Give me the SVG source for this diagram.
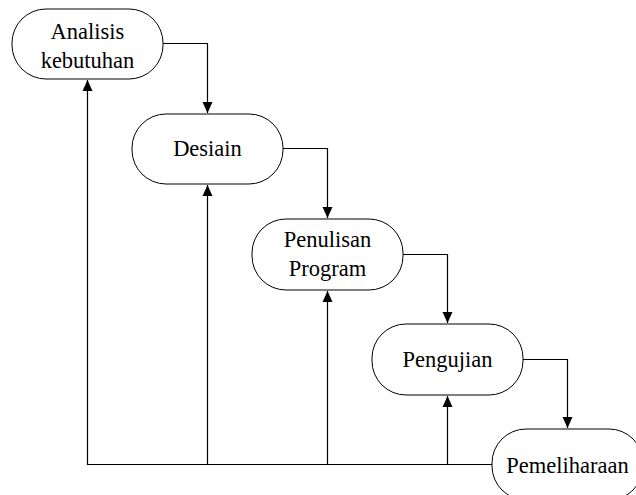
<svg xmlns="http://www.w3.org/2000/svg" width="636" height="495" viewBox="0 0 636 495">
<style>
.node rect{fill:#fff;stroke:#000;stroke-width:1}
.node text{font-family:"Liberation Serif",serif;font-size:22.5px;fill:#000;text-anchor:middle}
.conn path{fill:none;stroke:#000;stroke-width:1.2}
</style>
<defs>
<marker id="ah" markerWidth="11" markerHeight="12" refX="11" refY="5" orient="auto" markerUnits="userSpaceOnUse" viewBox="0 0 11 10">
<path d="M0,0 L11,5 L0,10 Z" fill="#000"/>
</marker>
</defs>
<rect width="636" height="495" fill="#fff"/>
<g class="conn">
<path d="M163,43.5 H207.5 V113" marker-end="url(#ah)"/>
<path d="M283,148.5 H327.5 V218" marker-end="url(#ah)"/>
<path d="M403,254.5 H447.5 V323" marker-end="url(#ah)"/>
<path d="M523,359.5 H567.5 V428" marker-end="url(#ah)"/>
<path d="M493,464.5 H87.5 V80" marker-end="url(#ah)"/>
<path d="M207.5,464.5 V185" marker-end="url(#ah)"/>
<path d="M327.5,464.5 V291" marker-end="url(#ah)"/>
<path d="M447.5,464.5 V396" marker-end="url(#ah)"/>
</g>
<g id="analisis" class="node">
<rect x="12" y="9" width="151" height="70" rx="34" ry="34"/>
<text x="87.5" y="39">Analisis</text>
<text x="87.5" y="68">kebutuhan</text>
</g>
<g id="desiain" class="node">
<rect x="132" y="114" width="151" height="70" rx="34" ry="34"/>
<text x="207.5" y="156">Desiain</text>
</g>
<g id="penulisan" class="node">
<rect x="252" y="219" width="151" height="71" rx="34" ry="34"/>
<text x="327.5" y="247">Penulisan</text>
<text x="327.5" y="276">Program</text>
</g>
<g id="pengujian" class="node">
<rect x="372" y="324" width="151" height="71" rx="34" ry="34"/>
<text x="447.5" y="367">Pengujian</text>
</g>
<g id="pemeliharaan" class="node">
<rect x="492" y="429" width="151" height="71" rx="34" ry="34"/>
<text x="567.5" y="473">Pemeliharaan</text>
</g>
</svg>
